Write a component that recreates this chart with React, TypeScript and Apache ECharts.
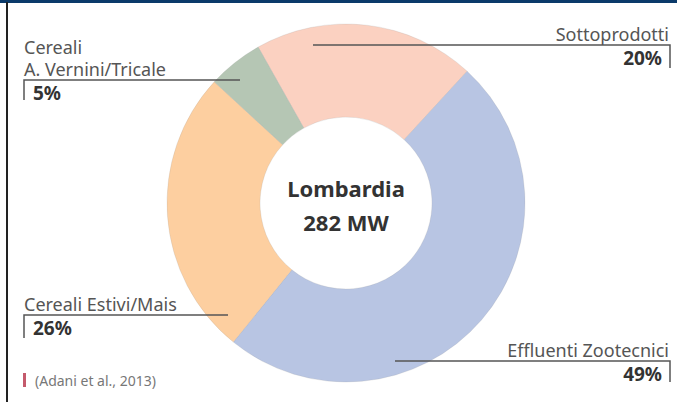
import React, { useEffect, useRef } from "react";
import * as echarts from "echarts";

const categories = ["Sottoprodotti", "Effluenti Zootecnici", "Cereali Estivi/Mais", "Cereali A. Vernini/Tricale"];
const labelNames = ["Sottoprodotti", "Effluenti Zootecnici", "Cereali Estivi/Mais", "Cereali\nA. Vernini/Tricale"];
const shares = [20, 49, 26, 5];
const centerTitle = "Lombardia";
const centerPower = "282 MW";
const sourceNote = "(Adani et al., 2013)";

const colors = ["#fbd1c1", "#b8c5e3", "#fdcfa0", "#b5c6b4"];
const FONT = "'Noto Sans', 'Open Sans', sans-serif";

// label layout anchors (lineY, line start x, tick x, tick end y, text x, side)
const anchors = [
  { lineY: 45, startX: 313, tickX: 670, tickEnd: 68, textX: 669, side: "right" },
  { lineY: 361, startX: 395, tickX: 670, tickEnd: 382, textX: 669, side: "right" },
  { lineY: 315, startX: 228, tickX: 24, tickEnd: 338, textX: 24, side: "left" },
  { lineY: 80, startX: 240, tickX: 24, tickEnd: 100, textX: 24, side: "left" },
];

export default function App() {
  const ref = useRef<HTMLDivElement>(null);
  useEffect(() => {
    document.body.style.margin = "0";
    if (!ref.current) return;
    const chart = echarts.init(ref.current, null, { renderer: "svg" });
    const NAME_LH = 22;
    const data = categories.map((c, i) => {
      const a = anchors[i];
      const nameLines = labelNames[i].split("\n");
      const pctKey = a.side === "right" ? "pr" : "pl";
      return {
        name: c,
        value: shares[i],
        itemStyle: { color: colors[i] },
        label: {
          align: a.side,
          formatter: () =>
            nameLines.map((l) => `{n|${l}}`).join("\n") + `\n{${pctKey}|${shares[i]}%}`,
        },
      };
    });
    const leaderLines = anchors.map((a) => ({
      type: "polyline",
      z: 100,
      shape: {
        points: [
          [a.startX, a.lineY],
          [a.tickX, a.lineY],
          [a.tickX, a.tickEnd],
        ],
      },
      style: { stroke: "#555555", lineWidth: 1.5, fill: null },
    }));
    chart.setOption({
      animation: false,
      backgroundColor: "#ffffff",
      graphic: [
        { type: "rect", shape: { x: 0, y: 0, width: 677, height: 3 }, style: { fill: "#0b3a6a" } },
        { type: "rect", shape: { x: 6, y: 2, width: 2, height: 400 }, style: { fill: "#222222" } },
        { type: "rect", shape: { x: 23, y: 373, width: 3, height: 14 }, style: { fill: "#c45a6c" } },
        {
          type: "text",
          x: 35,
          y: 380,
          style: {
            text: sourceNote,
            fill: "#777777",
            font: `14px ${FONT}`,
            textVerticalAlign: "middle",
          },
        },
        {
          type: "text",
          x: 346,
          y: 205,
          z: 10,
          style: {
            text: `${centerTitle}\n${centerPower}`,
            fill: "#333333",
            font: `bold 22px ${FONT}`,
            lineHeight: 34,
            textAlign: "center",
            textVerticalAlign: "middle",
          },
        },
        ...leaderLines,
      ],
      series: [
        {
          type: "pie",
          center: [346, 203],
          radius: [86, 179],
          startAngle: 119.4,
          clockwise: true,
          avoidLabelOverlap: false,
          silent: true,
          itemStyle: { borderColor: "rgba(150,150,150,0.3)", borderWidth: 0.6 },
          label: {
            show: true,
            position: "outside",
            fontFamily: FONT,
            rich: {
              n: { fontSize: 18, color: "#555555", lineHeight: NAME_LH, fontFamily: FONT },
              pl: { fontSize: 19, fontWeight: "bold", color: "#333333", lineHeight: 26, padding: [0, 0, 0, 9], fontFamily: FONT },
              pr: { fontSize: 19, fontWeight: "bold", color: "#333333", lineHeight: 26, padding: [0, 7, 0, 0], fontFamily: FONT },
            },
          },
          labelLine: { show: false },
          labelLayout: (params: any) => {
            const a = anchors[params.dataIndex];
            const nLines = labelNames[params.dataIndex].split("\n").length;
            return {
              x: a.textX,
              y: a.lineY - NAME_LH * nLines,
              align: a.side,
              verticalAlign: "top",
            };
          },
          data,
        },
      ],
    });
    return () => chart.dispose();
  }, []);
  return <div ref={ref} style={{ width: 677, height: 402 }} />;
}
